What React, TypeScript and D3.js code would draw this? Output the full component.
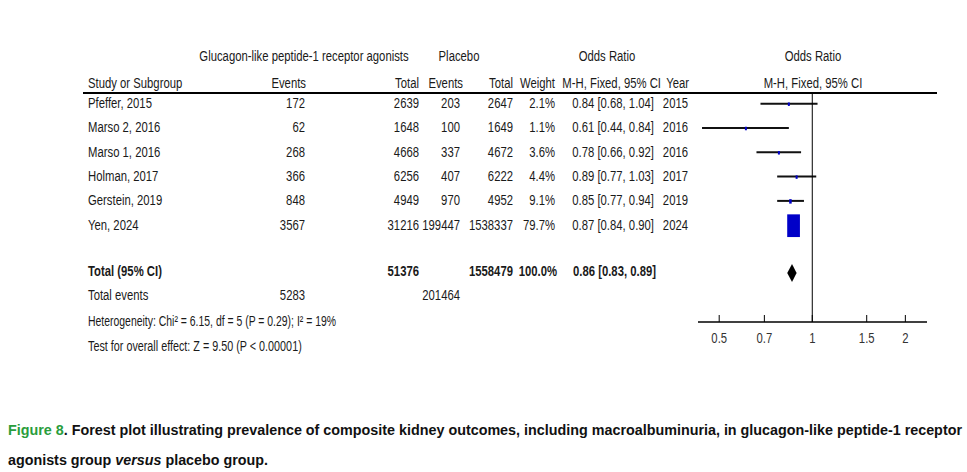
import React from "react";
import * as d3 from "d3";

const studies = ["Pfeffer, 2015", "Marso 2, 2016", "Marso 1, 2016", "Holman, 2017", "Gerstein, 2019", "Yen, 2024"];
const expEvents = [172, 62, 268, 366, 848, 3567];
const expTotal = [2639, 1648, 4668, 6256, 4949, 31216];
const plcEvents = [203, 100, 337, 407, 970, 199447];
const plcTotal = [2647, 1649, 4672, 6222, 4952, 1538337];
const weights = [2.1, 1.1, 3.6, 4.4, 9.1, 79.7];
const oddsRatio = [0.84, 0.61, 0.78, 0.89, 0.85, 0.87];
const ciLow = [0.68, 0.44, 0.66, 0.77, 0.77, 0.84];
const ciHigh = [1.04, 0.84, 0.92, 1.03, 0.94, 0.9];
const years = [2015, 2016, 2016, 2017, 2019, 2024];
const totalOR = [0.86, 0.83, 0.89];
const totalExp = 51376;
const totalPlc = 1558479;
const totalEventsExp = 5283;
const totalEventsPlc = 201464;
const tickValues = [0.5, 0.7, 1, 1.5, 2];

const FONT = "'Liberation Sans', Arial, sans-serif";
const TXT = "#1a1a1a";

const T = ({ x, y, children, ...rest }: any) => (
  <text
    transform={`translate(${x},${y}) scale(0.78,1)`}
    fontFamily={FONT}
    fontSize={14.5}
    fill={TXT}
    {...rest}
  >
    {children}
  </text>
);

export default function App() {
  const x = d3.scaleLog().domain([0.427, 2.35]).range([698, 927]);
  const rowBase = d3.scaleLinear().domain([0, 5]).range([108, 229.5]);
  const fmt = (v: number) => v.toFixed(2);
  const boxH = (w: number) => Math.max(3.5, 22.7 * Math.pow(w / d3.max(weights)!, 0.75));
  const axisY = 322;
  const topY = 93;

  const diamondY = 273;
  const dPts = [
    [x(totalOR[1]), diamondY],
    [x(totalOR[0]), diamondY - 9],
    [x(totalOR[2]), diamondY],
    [x(totalOR[0]), diamondY + 9],
  ];

  return (
    <svg width={967} height={472} style={{ position: "absolute", left: 0, top: 0, background: "#fff" }}>
      <rect width={967} height={472} fill="#fff" />
      {/* header */}
      <T x={304} y={61} textAnchor="middle">Glucagon-like peptide-1 receptor agonists</T>
      <T x={459} y={61} textAnchor="middle">Placebo</T>
      <T x={607} y={61} textAnchor="middle">Odds Ratio</T>
      <T x={813} y={61} textAnchor="middle">Odds Ratio</T>
      <T x={88} y={88}>Study or Subgroup</T>
      <T x={306} y={88} textAnchor="end">Events</T>
      <T x={419} y={88} textAnchor="end">Total</T>
      <T x={463} y={88} textAnchor="end">Events</T>
      <T x={513} y={88} textAnchor="end">Total</T>
      <T x={555} y={88} textAnchor="end">Weight</T>
      <T x={661} y={88} textAnchor="end">M-H, Fixed, 95% CI</T>
      <T x={689} y={88} textAnchor="end">Year</T>
      <T x={813} y={88} textAnchor="middle">M-H, Fixed, 95% CI</T>
      <line x1={83} x2={937} y1={topY} y2={topY} stroke="#000" strokeWidth={2} />

      {/* rows */}
      {studies.map((s, i) => {
        const b = rowBase(i);
        const cy = b - 4.3;
        const h = boxH(weights[i]);
        const w = Math.max(2, h * 0.56);
        return (
          <g key={s}>
            <T x={88} y={b}>{s}</T>
            <T x={305} y={b} textAnchor="end">{expEvents[i]}</T>
            <T x={419} y={b} textAnchor="end">{expTotal[i]}</T>
            <T x={460} y={b} textAnchor="end">{plcEvents[i]}</T>
            <T x={513} y={b} textAnchor="end">{plcTotal[i]}</T>
            <T x={555} y={b} textAnchor="end">{weights[i].toFixed(1)}%</T>
            <T x={654} y={b} textAnchor="end">{`${fmt(oddsRatio[i])} [${fmt(ciLow[i])}, ${fmt(ciHigh[i])}]`}</T>
            <T x={688} y={b} textAnchor="end">{years[i]}</T>
            <line x1={x(ciLow[i])} x2={x(ciHigh[i])} y1={cy} y2={cy} stroke="#111" strokeWidth={2} />
            <rect x={x(oddsRatio[i]) - w / 2} y={cy - h / 2 + 0.5} width={w} height={h} fill="#0000c8" />
          </g>
        );
      })}

      {/* total */}
      <T x={88} y={276} fontWeight="bold">Total (95% CI)</T>
      <T x={419} y={276} textAnchor="end" fontWeight="bold">{totalExp}</T>
      <T x={513} y={276} textAnchor="end" fontWeight="bold">{totalPlc}</T>
      <T x={557} y={276} textAnchor="end" fontWeight="bold">100.0%</T>
      <T x={656} y={276} textAnchor="end" fontWeight="bold">{`${fmt(totalOR[0])} [${fmt(totalOR[1])}, ${fmt(totalOR[2])}]`}</T>
      <polygon points={dPts.map((p) => p.join(",")).join(" ")} fill="#000" />

      <T x={88} y={300}>Total events</T>
      <T x={305} y={300} textAnchor="end">{totalEventsExp}</T>
      <T x={460} y={300} textAnchor="end">{totalEventsPlc}</T>
      <T x={88} y={325.5} textLength={318} lengthAdjust="spacingAndGlyphs">Heterogeneity: Chi² = 6.15, df = 5 (P = 0.29); I² = 19%</T>
      <T x={88} y={351} textLength={274} lengthAdjust="spacingAndGlyphs">Test for overall effect: Z = 9.50 (P &lt; 0.00001)</T>

      {/* plot */}
      <line x1={x(1)} x2={x(1)} y1={topY} y2={axisY} stroke="#000" strokeWidth={1} />
      <line x1={698} x2={927} y1={axisY} y2={axisY} stroke="#000" strokeWidth={1.5} />
      {tickValues.map((t) => (
        <g key={t}>
          <line x1={x(t)} x2={x(t)} y1={axisY - 7} y2={axisY} stroke="#000" strokeWidth={1} />
          <T x={x(t)} y={343} textAnchor="middle" fill="#333">{String(t)}</T>
        </g>
      ))}

      {/* caption */}
      <text x={8} y={435} fontFamily={FONT} fontWeight="bold" fontSize={14} fill="#111" textLength={954} lengthAdjust="spacingAndGlyphs">
        <tspan fill="#2a9d3c">Figure 8</tspan>
        <tspan>. Forest plot illustrating prevalence of composite kidney outcomes, including macroalbuminuria, in glucagon-like peptide-1 receptor</tspan>
      </text>
      <text x={8} y={465} fontFamily={FONT} fontWeight="bold" fontSize={14} fill="#111" textLength={260} lengthAdjust="spacingAndGlyphs">
        agonists group <tspan fontStyle="italic">versus</tspan> placebo group.
      </text>
    </svg>
  );
}
